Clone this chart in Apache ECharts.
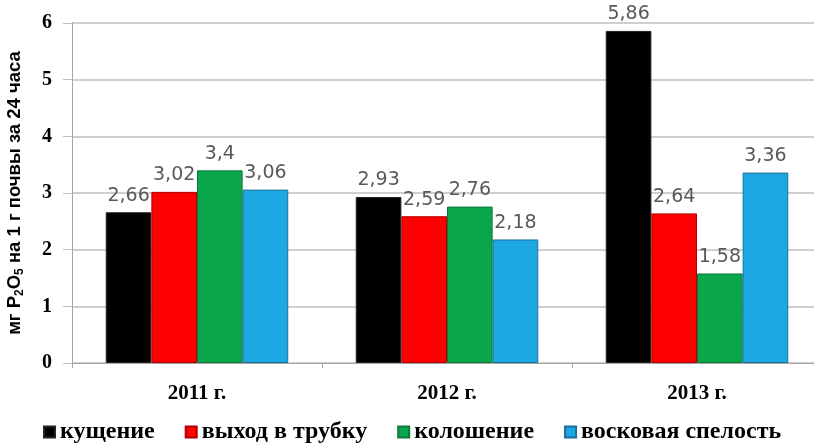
<!DOCTYPE html>
<html><head><meta charset="utf-8">
<script src="https://cdn.jsdelivr.net/npm/echarts@6/dist/echarts.min.js"></script>
<style>html,body{margin:0;padding:0;background:#fff}#c{width:814px;height:443px}</style>
</head><body><div id="c"></div>
<script>
var categories = ['2011 г.', '2012 г.', '2013 г.'];
var seriesNames = ['кущение', 'выход в трубку', 'колошение', 'восковая спелость'];
var tillering = [2.66, 2.93, 5.86];
var booting = [3.02, 2.59, 2.64];
var heading = [3.4, 2.76, 1.58];
var waxRipeness = [3.06, 2.18, 3.36];
var yTicks = [0, 1, 2, 3, 4, 5, 6];

var colors = ['#000000', '#ff0000', '#0aa64b', '#1ea8e3'];
var borders = ['#222222', '#b00000', '#0a7a3a', '#1a6f9a'];
var values = [tillering, booting, heading, waxRipeness];

var series = seriesNames.map(function (n, i) {
  return {
    name: n, type: 'bar', data: values[i],
    barGap: '0%', barCategoryGap: '27%',
    itemStyle: { color: colors[i], borderColor: borders[i], borderWidth: 1 },
    label: {
      show: true, position: 'top', distance: 7,
      color: '#595959', fontFamily: 'DejaVu Sans', fontSize: 19,
      formatter: function (p) { return String(p.value).replace('.', ','); }
    }
  };
});

var chart = echarts.init(document.getElementById('c'), null, { renderer: 'canvas' });
chart.setOption({
  animation: false,
  backgroundColor: '#ffffff',
  grid: { left: 72, top: 23, width: 750, height: 340, containLabel: false, outerBoundsMode: 'none' },
  legend: {
    data: seriesNames, top: 420, left: 43, itemGap: 30, padding: 0,
    itemWidth: 11, itemHeight: 11, icon: 'rect',
    textStyle: { fontFamily: 'Liberation Serif', fontWeight: 'bold', fontSize: 24, color: '#000' }
  },
  xAxis: {
    type: 'category', data: categories,
    axisLine: { lineStyle: { color: '#a6a6a6', width: 1 } },
    axisTick: { show: true, length: 5, lineStyle: { color: '#a6a6a6' } },
    axisLabel: { margin: 20, fontFamily: 'Liberation Serif', fontWeight: 'bold', fontSize: 21, color: '#000' }
  },
  yAxis: {
    type: 'value', min: yTicks[0], max: yTicks[yTicks.length - 1], interval: 1,
    name: 'мг P{sub|2}O{sub|5} на 1 г почвы за 24 часа',
    nameLocation: 'middle', nameRotate: 90, nameGap: 46,
    nameTextStyle: {
      fontFamily: 'Liberation Sans', fontWeight: 'bold', fontSize: 18.5, color: '#000',
      rich: { sub: { fontFamily: 'Liberation Sans', fontWeight: 'bold', fontSize: 12, verticalAlign: 'bottom', padding: [10, 0, 0, 0] } }
    },
    axisLine: { show: true, lineStyle: { color: '#a6a6a6', width: 1 } },
    axisTick: { show: true, length: 9, lineStyle: { color: '#bfbfbf' } },
    splitLine: { lineStyle: { color: '#bfbfbf', width: 1.5 } },
    axisLabel: { margin: 20, fontFamily: 'Liberation Serif', fontWeight: 'bold', fontSize: 20, color: '#000',
      formatter: function (v) { return yTicks.indexOf(v) >= 0 ? String(v) : ''; } }
  },
  series: series
});
</script></body></html>
